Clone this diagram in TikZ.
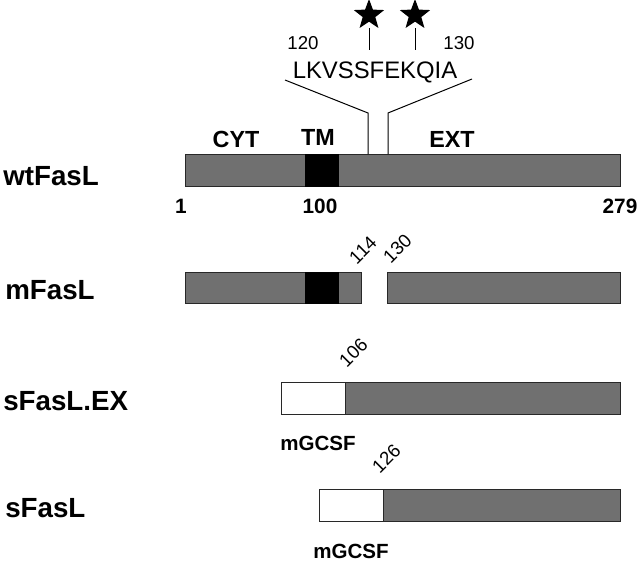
\documentclass[tikz,border=0pt]{standalone}
\usepackage{fontspec}
\setmainfont{Liberation Sans}
\usepackage{xcolor}
\usepackage{tikz}
\usetikzlibrary{positioning,shapes.geometric}

\tikzset{
  protname/.style={anchor=base west,inner sep=0.75pt,font=\fontsize{20.8}{24}\selectfont\bfseries},
  domname/.style={anchor=base,inner sep=0.75pt,font=\fontsize{17.5}{20}\selectfont\bfseries},
  posnum/.style={anchor=base,inner sep=0.75pt,font=\fontsize{15.6}{18}\selectfont\bfseries},
  resnum/.style={inner sep=0.75pt,font=\fontsize{14}{16}\selectfont},
  seqtext/.style={anchor=base,inner sep=0.75pt,font=\fontsize{17.9}{20}\selectfont},
  tagname/.style={anchor=base,inner sep=0.75pt,font=\fontsize{15.4}{18}\selectfont\bfseries},
  extbox/.style={draw={rgb,255:red,40;green,40;blue,40},line width=0.75,fill={rgb,255:red,112;green,112;blue,112}},
  tmbox/.style={draw=black,line width=0.75,fill=black},
  gcsfbox/.style={draw={rgb,255:red,40;green,40;blue,40},line width=0.75,fill=white},
  mutstar/.style={star,star points=5,star point ratio=2.4,fill=black,inner sep=0pt,minimum size=24}
}

\begin{document}
\begin{tikzpicture}[x=0.75pt,y=0.75pt,yscale=-1,xscale=1]
\useasboundingbox (0,0) rectangle (640,564);

%Shape: wtFasL bar
        \draw [extbox] (185,154) rectangle (620,186) ;
        \draw [tmbox] (305,154) rectangle (338,186) ;
%Shape: mFasL bars
        \draw [extbox] (185,272) rectangle (361,303) ;
        \draw [tmbox] (305,272) rectangle (338,303) ;
        \draw [extbox] (387,272) rectangle (620,303) ;
%Shape: sFasL.EX bar
        \draw [extbox] (345,382) rectangle (620,414) ;
        \draw [gcsfbox] (281,382) rectangle (345,414) ;
%Shape: sFasL bar
        \draw [extbox] (383,489) rectangle (620,521) ;
        \draw [gcsfbox] (319,489) rectangle (383,521) ;

% Protein names
        \node [protname] (wt) at (2,185) {wtFasL};
        \node [protname] (mut) at (4,299) {mFasL};
        \node [protname] (sex) at (2,410) {sFasL.EX};
        \node [protname] (sf) at (4,517) {sFasL};

% Domain names
        \node [domname] (cyt) at (236,147) {CYT};
        \node [domname] (tm) at (318,145) {TM};
        \node [domname] (ext) at (452,147) {EXT};

% Residue positions
        \node [posnum] (p1) at (181,213) {1};
        \node [posnum] (p100) at (320,213) {100};
        \node [posnum] (p279) at (620,213) {279};

% Sequence
        \node [seqtext] (seq) at (375,78) {LKVSSFEKQIA};
        \node [resnum,anchor=base] (r120) at (303,50) {120};
        \node [resnum,anchor=base] (r130) at (459,50) {130};
        \node [mutstar] (s1) at (369,15) {};
        \node [mutstar] (s2) at (415,15) {};
        \draw [line width=0.75] (s1) ++(0,13) -- ++(0,22) ;
        \draw [line width=0.75] (s2) ++(0,13) -- ++(0,22) ;

% Connection
        \coordinate (cl) at (285,80) ;
        \coordinate (cr) at (472,79) ;
        \draw [line width=0.75] (cl) -- (368,113) -- (368,154) ;
        \draw [line width=0.75] (cr) -- (388,113) -- (388,154) ;

% Rotated residue numbers
        \node [resnum,anchor=base west,rotate=45] (r114) at (356,266) {114};
        \node [resnum,anchor=base west,rotate=45] (r130b) at (390,265) {130};
        \node [resnum,anchor=base west,rotate=45] (r106) at (346,369) {106};
        \node [resnum,anchor=base west,rotate=45] (r126) at (379,475) {126};

% Fusion tag
        \node [tagname] (g1) at (318,450) {mGCSF};
        \node [tagname] (g2) at (351,558) {mGCSF};

\end{tikzpicture}
\end{document}
